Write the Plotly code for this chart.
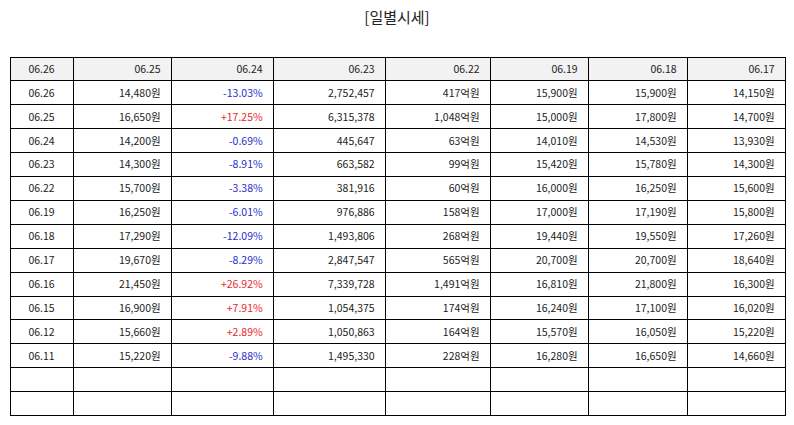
import plotly.graph_objects as go

# header row (as shown in the reference)
header_labels = ["06.26", "06.25", "06.24", "06.23", "06.22", "06.19", "06.18", "06.17"]

dates = ["06.26", "06.25", "06.24", "06.23", "06.22", "06.19",
         "06.18", "06.17", "06.16", "06.15", "06.12", "06.11"]
close = [14480, 16650, 14200, 14300, 15700, 16250, 17290, 19670, 21450, 16900, 15660, 15220]
change_pct = [-13.03, 17.25, -0.69, -8.91, -3.38, -6.01, -12.09, -8.29, 26.92, 7.91, 2.89, -9.88]
volume = [2752457, 6315378, 445647, 663582, 381916, 976886, 1493806, 2847547, 7339728, 1054375, 1050863, 1495330]
amount_eok = [417, 1048, 63, 99, 60, 158, 268, 565, 1491, 174, 164, 228]
open_price = [15900, 15000, 14010, 15420, 16000, 17000, 19440, 20700, 16810, 16240, 15570, 16280]
high_price = [15900, 17800, 14530, 15780, 16250, 17190, 19550, 20700, 21800, 17100, 16050, 16650]
low_price = [14150, 14700, 13930, 14300, 15600, 15800, 17260, 18640, 16300, 16020, 15220, 14660]

EMPTY_ROWS = 2
W, H = 794, 425
TEXT = "#222222"
NBSP = "\u00a0"


def won(v):
    return f"{v:,}원"


def pad(col, filler=""):
    return col + [filler] * EMPTY_ROWS


def right(items):
    # a little extra room before the right border, like the original table
    return [s + NBSP if s else s for s in items]


columns = [
    dates,
    [won(v) for v in close],
    [f"{v:+.2f}%" for v in change_pct],
    [f"{v:,}" for v in volume],
    [f"{v:,}억원" for v in amount_eok],
    [won(v) for v in open_price],
    [won(v) for v in high_price],
    [won(v) for v in low_price],
]
columns = [columns[0]] + [right(c) for c in columns[1:]]
columns = [pad(c) for c in columns]

pct_colors = ["#e8262e" if v > 0 else "#2c2cc8" for v in change_pct]
font_colors = [TEXT] * len(columns)
font_colors[2] = pad(pct_colors, TEXT)

fig = go.Figure(go.Table(
    domain=dict(x=[10 / W, 785 / W], y=[0, 1 - 57 / H]),
    columnwidth=[63, 98, 102, 112, 105, 98, 99, 98],
    header=dict(
        values=[header_labels[0]] + right(header_labels[1:]),
        align=["center"] + ["right"] * 7,
        fill_color="#f2f2f2",
        line=dict(color="black", width=1),
        font=dict(family="Noto Sans CJK KR", size=10.5, color=TEXT),
        height=23.9,
    ),
    cells=dict(
        values=columns,
        align=["center"] + ["right"] * 7,
        fill_color="white",
        line=dict(color="black", width=1),
        font=dict(family="Noto Sans CJK KR", size=10.5, color=font_colors),
        height=23.9,
    ),
))

fig.update_layout(
    width=W, height=H,
    margin=dict(l=0, r=0, t=0, b=0),
    paper_bgcolor="white",
    title=dict(text="[일별시세]", x=0.5, xanchor="center", y=1 - 18 / H, yanchor="middle",
               font=dict(family="Noto Sans CJK KR", size=15, color=TEXT)),
)

# drop the browser's default body margin so the figure sits at the page corner
fig.write_html("out.html", config={"displayModeBar": False},
               post_script="document.body.style.margin='0';")
